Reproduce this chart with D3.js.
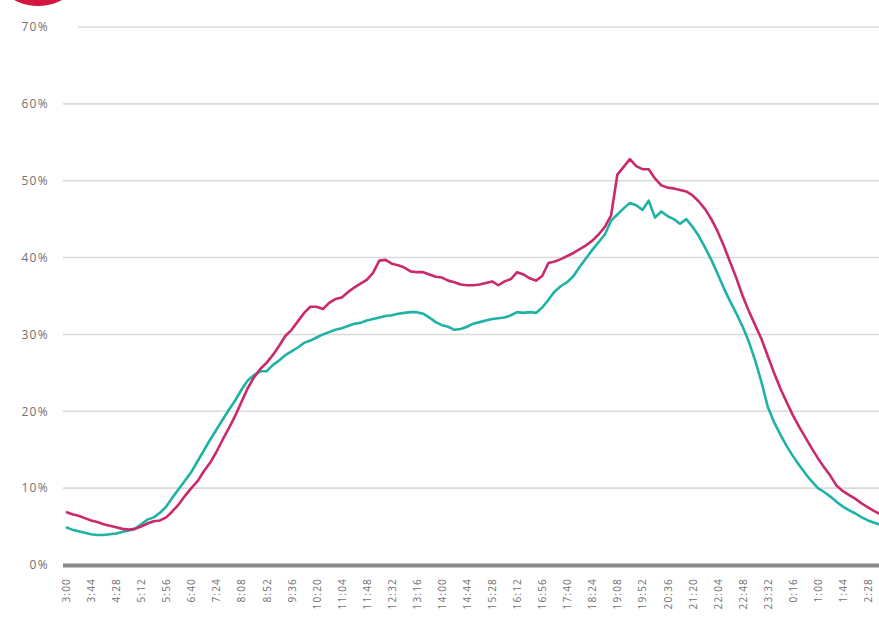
<!DOCTYPE html>
<html>
<head>
<meta charset="utf-8">
<script src="https://cdn.jsdelivr.net/npm/d3@7"></script>
<style>
  html, body { margin: 0; padding: 0; background: #ffffff; }
  svg { display: block; }
</style>
</head>
<body>
<svg id="chart" width="879" height="623"></svg>
<script>
// Time-of-day labels on the x axis, one every 44 minutes starting at 3:00
const tickLabels = ["3:00","3:44","4:28","5:12","5:56","6:40","7:24","8:08","8:52","9:36",
  "10:20","11:04","11:48","12:32","13:16","14:00","14:44","15:28","16:12","16:56",
  "17:40","18:24","19:08","19:52","20:36","21:20","22:04","22:48","23:32","0:16",
  "1:00","1:44","2:28"];
const tickStepMinutes = 44;

// Percentage ticks on the y axis
const yTicks = [0, 10, 20, 30, 40, 50, 60, 70];

// Share (%) sampled every 11 minutes from 3:00
const sampleStepMinutes = 11;
const lineMagenta = [
  6.9, 6.6, 6.4, 6.1, 5.8, 5.6, 5.3, 5.1, 4.9, 4.7,
  4.6, 4.7, 5.0, 5.4, 5.7, 5.8, 6.2, 7.0, 7.9, 9.0,
  10.0, 10.9, 12.2, 13.3, 14.7, 16.3, 17.8, 19.4, 21.2, 23.0,
  24.4, 25.5, 26.3, 27.3, 28.5, 29.8, 30.6, 31.7, 32.8, 33.6,
  33.6, 33.3, 34.1, 34.6, 34.8, 35.5, 36.1, 36.6, 37.1, 38.0,
  39.6, 39.7, 39.2, 39.0, 38.7, 38.2, 38.1, 38.1, 37.8, 37.5,
  37.4, 37.0, 36.8, 36.5, 36.4, 36.4, 36.5, 36.7, 36.9, 36.4,
  36.9, 37.2, 38.1, 37.8, 37.3, 37.0, 37.6, 39.3, 39.5, 39.8,
  40.2, 40.6, 41.1, 41.6, 42.2, 43.0, 44.0, 45.5, 50.8, 51.8,
  52.8, 51.9, 51.5, 51.5, 50.3, 49.4, 49.1, 49.0, 48.8, 48.6,
  48.1, 47.3, 46.3, 45.0, 43.4, 41.5, 39.4, 37.3, 35.0, 33.0,
  31.2, 29.4, 27.2, 25.0, 23.0, 21.2, 19.5, 18.0, 16.6, 15.2,
  13.9, 12.7, 11.6, 10.3, 9.6, 9.1, 8.6, 8.0, 7.5, 7.0,
  6.6
];
const lineTeal = [
  4.9, 4.6, 4.4, 4.2, 4.0, 3.9, 3.9, 4.0, 4.1, 4.3,
  4.5, 4.7, 5.3, 5.9, 6.2, 6.8, 7.6, 8.8, 9.9, 11.0,
  12.1, 13.5, 14.9, 16.3, 17.6, 18.9, 20.2, 21.4, 22.8, 24.0,
  24.7, 25.2, 25.2, 26.0, 26.6, 27.3, 27.8, 28.3, 28.9, 29.2,
  29.6, 30.0, 30.3, 30.6, 30.8, 31.1, 31.4, 31.5, 31.8, 32.0,
  32.2, 32.4, 32.5, 32.7, 32.8, 32.9, 32.9, 32.7, 32.2, 31.6,
  31.2, 31.0, 30.6, 30.7, 31.0, 31.4, 31.6, 31.8, 32.0, 32.1,
  32.2, 32.5, 32.9, 32.8, 32.9, 32.8, 33.5, 34.5, 35.6, 36.3,
  36.8, 37.6, 38.8, 39.9, 41.0, 42.0, 43.0, 44.8, 45.6, 46.4,
  47.1, 46.8, 46.2, 47.4, 45.2, 46.0, 45.4, 45.0, 44.4, 45.0,
  44.0, 42.8, 41.3, 39.7, 37.9, 36.0, 34.3, 32.7, 31.0, 29.0,
  26.6, 23.8, 20.6, 18.6, 17.0, 15.5, 14.2, 13.0, 11.9, 10.9,
  10.0, 9.5, 8.9, 8.2, 7.6, 7.1, 6.7, 6.2, 5.8, 5.5,
  5.2
];

const svg = d3.select("#chart");

// Brand mark peeking in at the top-left corner
svg.append("circle")
  .attr("cx", 38).attr("cy", -44).attr("r", 50)
  .attr("fill", "#d3163f");

const plotLeft = 63, plotRight = 879;
const xStart = 66, lastTickX = 868;
const lastTickMinutes = (tickLabels.length - 1) * tickStepMinutes;

const x = d3.scaleLinear()
  .domain([0, lastTickMinutes])
  .range([xStart, lastTickX]);

const y = d3.scaleLinear()
  .domain([0, 70])
  .range([565, 27]);

// Horizontal gridlines
svg.append("g")
  .selectAll("line")
  .data(yTicks.filter(d => d > 0))
  .join("line")
  .attr("x1", d => d === 70 ? 78 : plotLeft).attr("x2", plotRight)
  .attr("y1", d => y(d)).attr("y2", d => y(d))
  .attr("stroke", "#dadada")
  .attr("stroke-width", 1.6);

// Y axis labels
const yAxis = d3.axisLeft(y)
  .tickValues(yTicks)
  .tickFormat(d => d + "%")
  .tickSize(0)
  .tickPadding(0);
const yG = svg.append("g")
  .attr("transform", "translate(49,0)")
  .call(yAxis);
yG.select(".domain").remove();
yG.selectAll("text")
  .attr("fill", "#707070")
  .style("font-family", "'Open Sans', sans-serif")
  .style("font-size", "12px")
  .style("letter-spacing", "1.3px");

// Lines
const line = d3.line()
  .x((d, i) => x(i * sampleStepMinutes))
  .y(d => y(d))
  .curve(d3.curveLinear);

svg.append("path")
  .datum(lineTeal)
  .attr("fill", "none")
  .attr("stroke", "#1fb2a5")
  .attr("stroke-width", 2.6)
  .attr("stroke-linejoin", "round")
  .attr("d", line);

svg.append("path")
  .datum(lineMagenta)
  .attr("fill", "none")
  .attr("stroke", "#c92a6c")
  .attr("stroke-width", 2.6)
  .attr("stroke-linejoin", "round")
  .attr("d", line);

// X axis baseline
svg.append("line")
  .attr("x1", plotLeft).attr("x2", plotRight)
  .attr("y1", y(0) + 0.5).attr("y2", y(0) + 0.5)
  .attr("stroke", "#8a8a8a")
  .attr("stroke-width", 4);

// X axis time labels, rotated to read bottom-to-top
const xAxis = d3.axisBottom(x)
  .tickValues(tickLabels.map((_, i) => i * tickStepMinutes))
  .tickFormat((d, i) => tickLabels[i])
  .tickSize(0);
const xG = svg.append("g")
  .attr("transform", "translate(0,578)")
  .call(xAxis);
xG.select(".domain").remove();
xG.selectAll("text")
  .attr("transform", "rotate(-90)")
  .attr("x", 0)
  .attr("y", 0)
  .attr("dy", "0.35em")
  .attr("text-anchor", "end")
  .attr("fill", "#707070")
  .style("font-family", "'Open Sans', sans-serif")
  .style("font-size", "10px")
  .style("letter-spacing", "1.2px");
</script>
</body>
</html>
